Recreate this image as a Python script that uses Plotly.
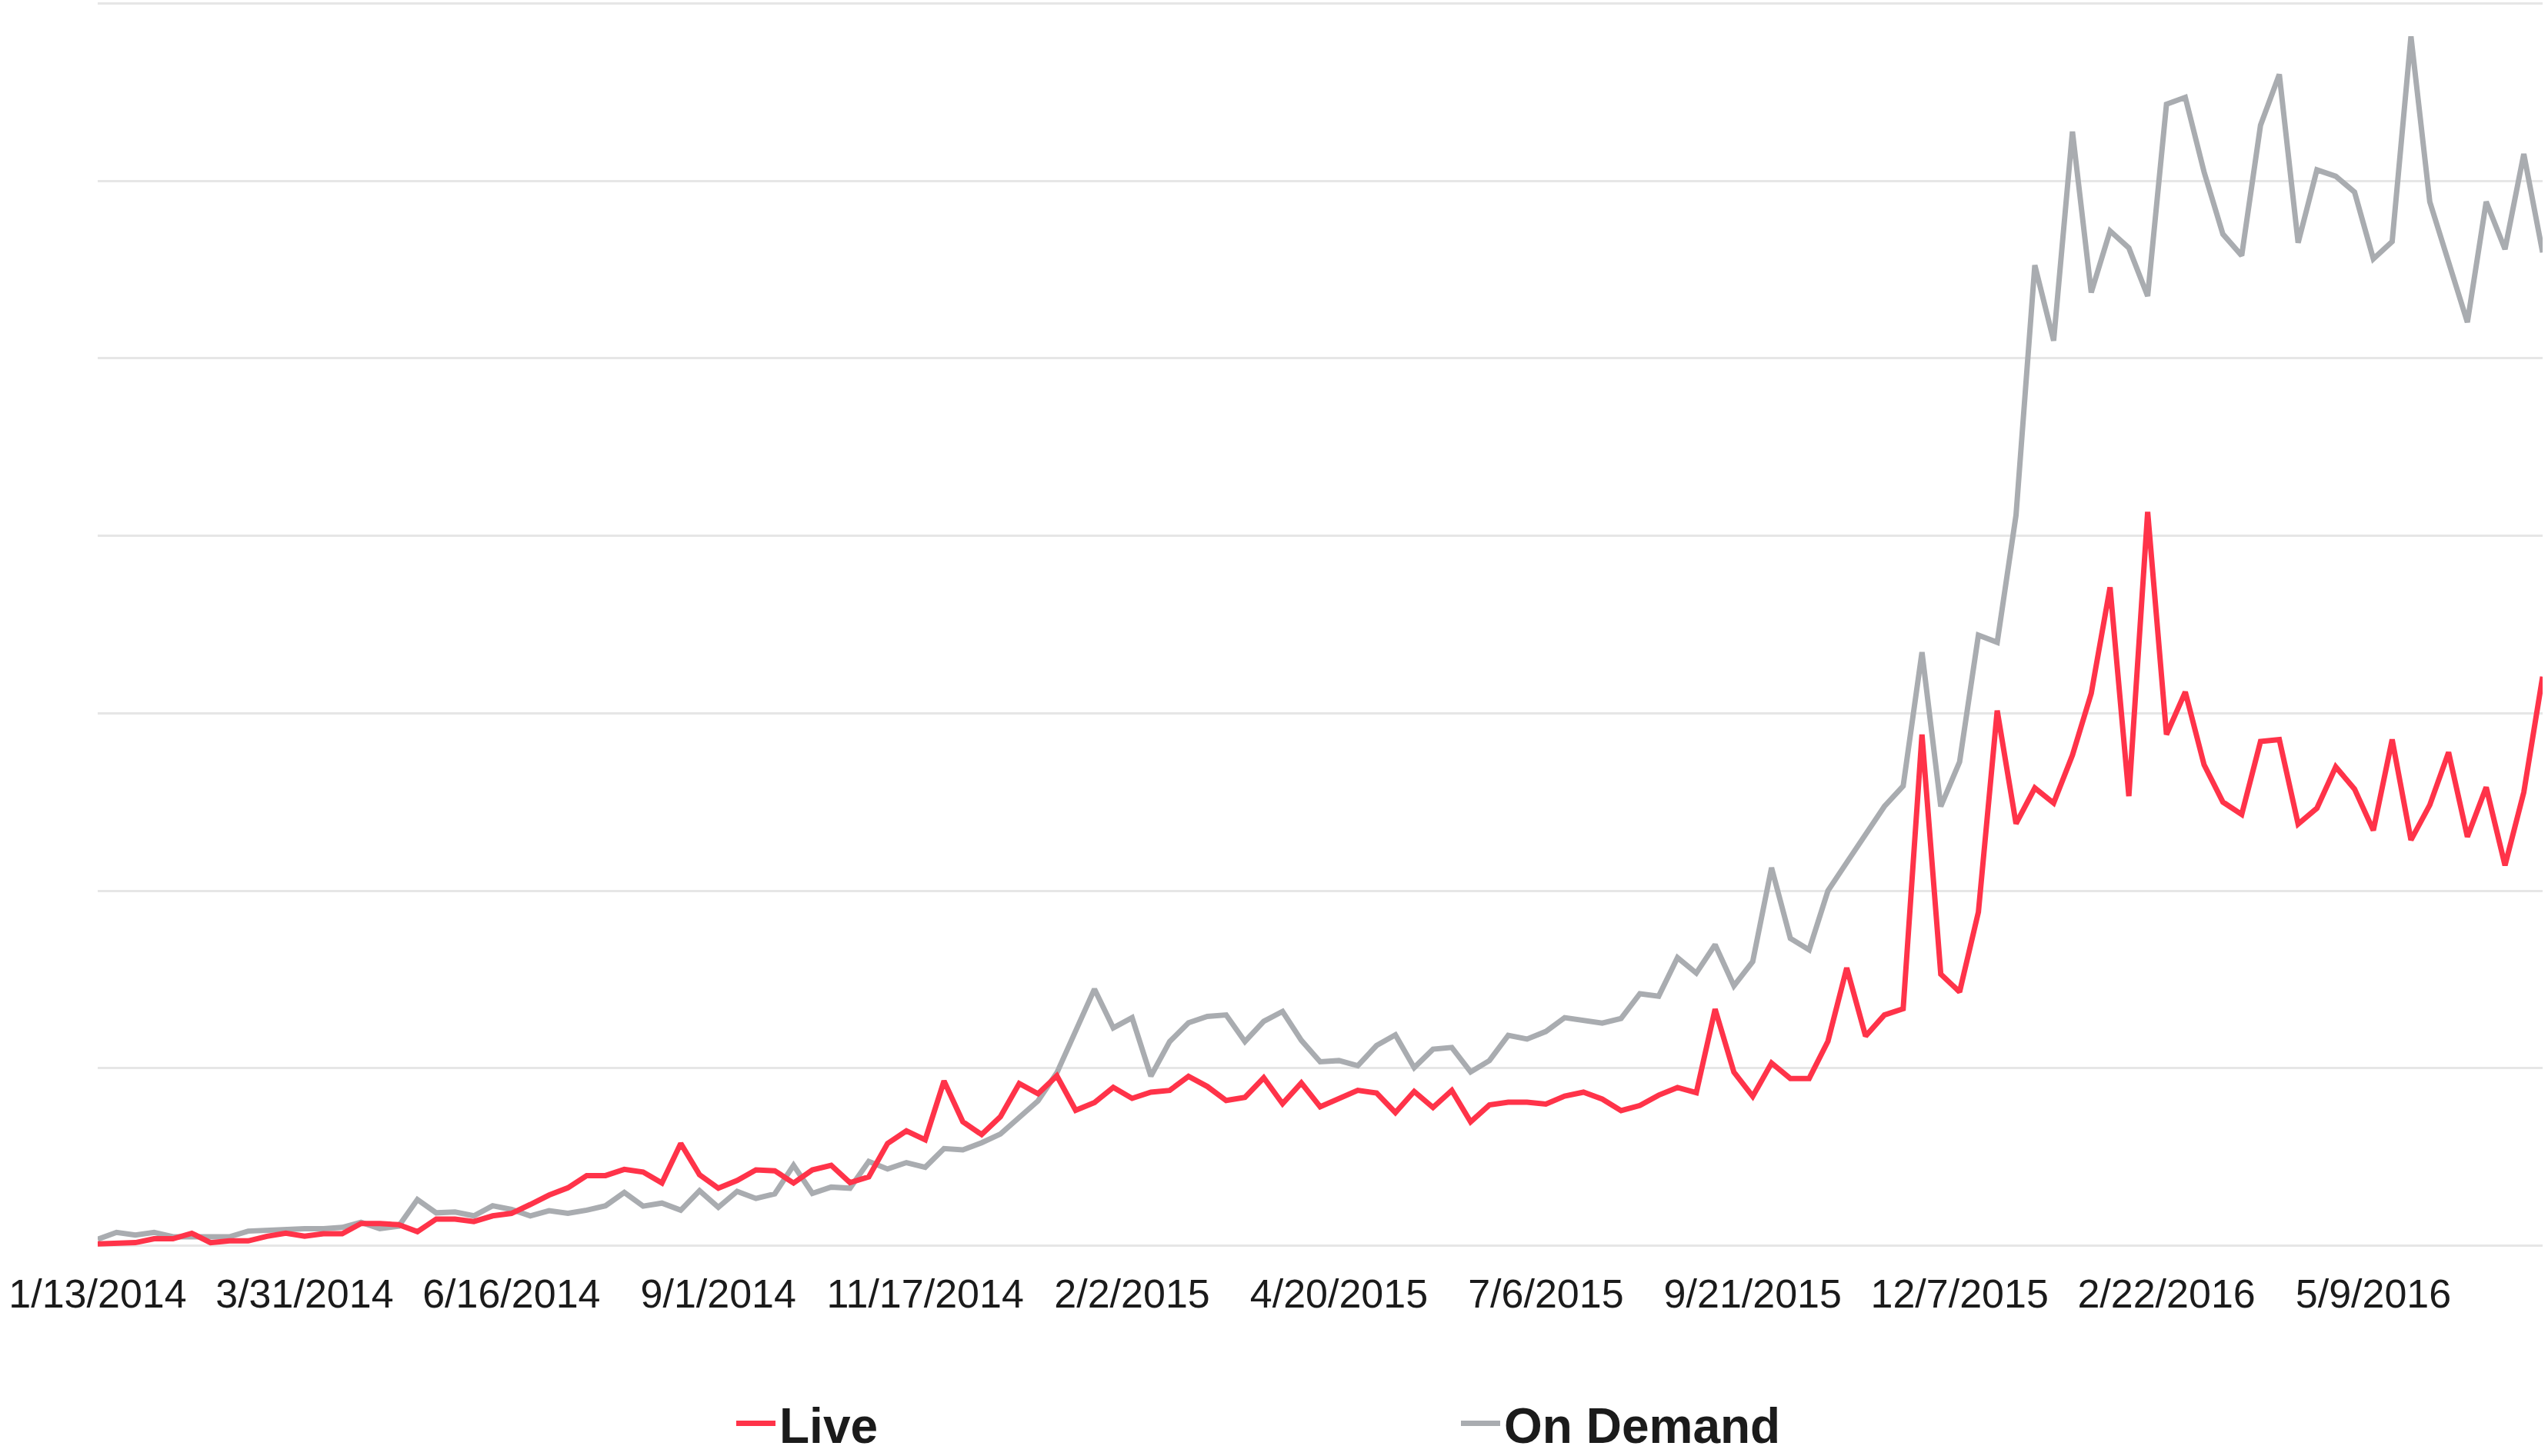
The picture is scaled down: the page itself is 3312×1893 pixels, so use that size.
import pandas as pd
import plotly.graph_objects as go

start_week = "2014-01-13"

live = [
    0.010, 0.017, 0.017, 0.039, 0.039, 0.070, 0.017, 0.027, 0.027, 0.053,
    0.070, 0.053, 0.067, 0.067, 0.125, 0.125, 0.118, 0.079, 0.150, 0.150,
    0.136, 0.168, 0.182, 0.232, 0.285, 0.326, 0.395, 0.395, 0.430, 0.415,
    0.353, 0.576, 0.400, 0.324, 0.367, 0.427, 0.422, 0.353, 0.427, 0.453,
    0.355, 0.388, 0.576, 0.647, 0.597, 0.928, 0.698, 0.626, 0.727, 0.914,
    0.856, 0.957, 0.763, 0.806, 0.892, 0.830, 0.865, 0.875, 0.954, 0.897,
    0.818, 0.836, 0.946, 0.800, 0.917, 0.783, 0.826, 0.875, 0.860, 0.750,
    0.869, 0.779, 0.875, 0.698, 0.793, 0.808, 0.808, 0.798, 0.843, 0.865,
    0.826, 0.761, 0.790, 0.848, 0.891, 0.862, 1.333, 0.978, 0.841, 1.029,
    0.942, 0.942, 1.152, 1.565, 1.181, 1.300, 1.335, 2.880, 1.530, 1.430,
    1.880, 3.015, 2.378, 2.579, 2.494, 2.764, 3.112, 3.710, 2.533, 4.135,
    2.880, 3.120, 2.710, 2.500, 2.430, 2.841, 2.852, 2.376, 2.465, 2.698,
    2.573, 2.340, 2.852, 2.286, 2.483, 2.780, 2.304, 2.583, 2.143, 2.555,
    3.206,
]

on_demand = [
    0.036, 0.075, 0.060, 0.075, 0.050, 0.050, 0.056, 0.050, 0.082, 0.089,
    0.089, 0.096, 0.096, 0.103, 0.132, 0.096, 0.110, 0.260, 0.185, 0.190,
    0.168, 0.225, 0.204, 0.168, 0.197, 0.182, 0.200, 0.225, 0.300, 0.223,
    0.240, 0.200, 0.310, 0.216, 0.306, 0.266, 0.292, 0.453, 0.295, 0.330,
    0.324, 0.475, 0.432, 0.468, 0.442, 0.547, 0.540, 0.580, 0.629, 0.720,
    0.816, 0.974, 1.216, 1.446, 1.227, 1.285, 0.955, 1.150, 1.256, 1.292,
    1.300, 1.150, 1.264, 1.320, 1.157, 1.036, 1.043, 1.014, 1.128, 1.188,
    1.003, 1.107, 1.117, 0.979, 1.043, 1.185, 1.164, 1.207, 1.285, 1.273,
    1.254, 1.280, 1.420, 1.406, 1.623, 1.536, 1.696, 1.464, 1.601, 2.130,
    1.732, 1.667, 2.000, 2.159, 2.319, 2.475, 2.590, 3.344, 2.475, 2.726,
    3.440, 3.400, 4.116, 5.525, 5.100, 6.278, 5.371, 5.718, 5.622, 5.351,
    6.432, 6.471, 6.050, 5.700, 5.579, 6.313, 6.600, 5.651, 6.062, 6.026,
    5.937, 5.561, 5.658, 6.814, 5.883, 5.543, 5.203, 5.883, 5.615, 6.152,
    5.597,
]

tick_labels = [
    "1/13/2014", "3/31/2014", "6/16/2014", "9/1/2014", "11/17/2014",
    "2/2/2015", "4/20/2015", "7/6/2015", "9/21/2015", "12/7/2015",
    "2/22/2016", "5/9/2016",
]
tick_dates = pd.to_datetime(tick_labels, format="%m/%d/%Y")

weeks = pd.date_range(start_week, periods=len(live), freq="7D")

RED = "#FF3349"
GREY = "#A9ACB0"

fig = go.Figure()
fig.add_trace(go.Scatter(
    x=weeks, y=on_demand, name="On Demand", mode="lines",
    line=dict(color=GREY, width=7), legendrank=2,
))
fig.add_trace(go.Scatter(
    x=weeks, y=live, name="Live", mode="lines",
    line=dict(color=RED, width=7), legendrank=1,
))

fig.update_layout(
    width=3312, height=1893,
    margin=dict(l=127, r=7, t=1, b=270, autoexpand=False),
    paper_bgcolor="white", plot_bgcolor="white",
    font=dict(family="Liberation Sans, Arial, Helvetica, sans-serif", color="#1b1b1b"),
    showlegend=True,
    legend=dict(
        orientation="h", x=0.2596, xanchor="left",
        yref="container", y=0.0222, yanchor="middle",
        font=dict(size=64, weight="bold", color="#1b1b1b"),
        itemwidth=51, entrywidth=876, entrywidthmode="pixels",
        bgcolor="rgba(0,0,0,0)",
    ),
    xaxis=dict(
        range=[weeks[0], weeks[-1]],
        tickmode="array", tickvals=tick_dates, ticktext=tick_labels,
        tickangle=0, tickfont=dict(size=52, color="#1b1b1b"),
        ticklabelstandoff=24,
        showgrid=False, zeroline=False, showline=False, ticks="",
    ),
    yaxis=dict(
        range=[-0.015, 7.015], dtick=1, tick0=0, showticklabels=False,
        showgrid=True, gridcolor="#E6E6E6", gridwidth=3,
        zeroline=False, showline=False, ticks="",
    ),
)

fig.write_html(
    "out.html",
    config={"displayModeBar": False},
    post_script="document.body.style.margin='0';document.body.style.overflow='hidden';",
)
